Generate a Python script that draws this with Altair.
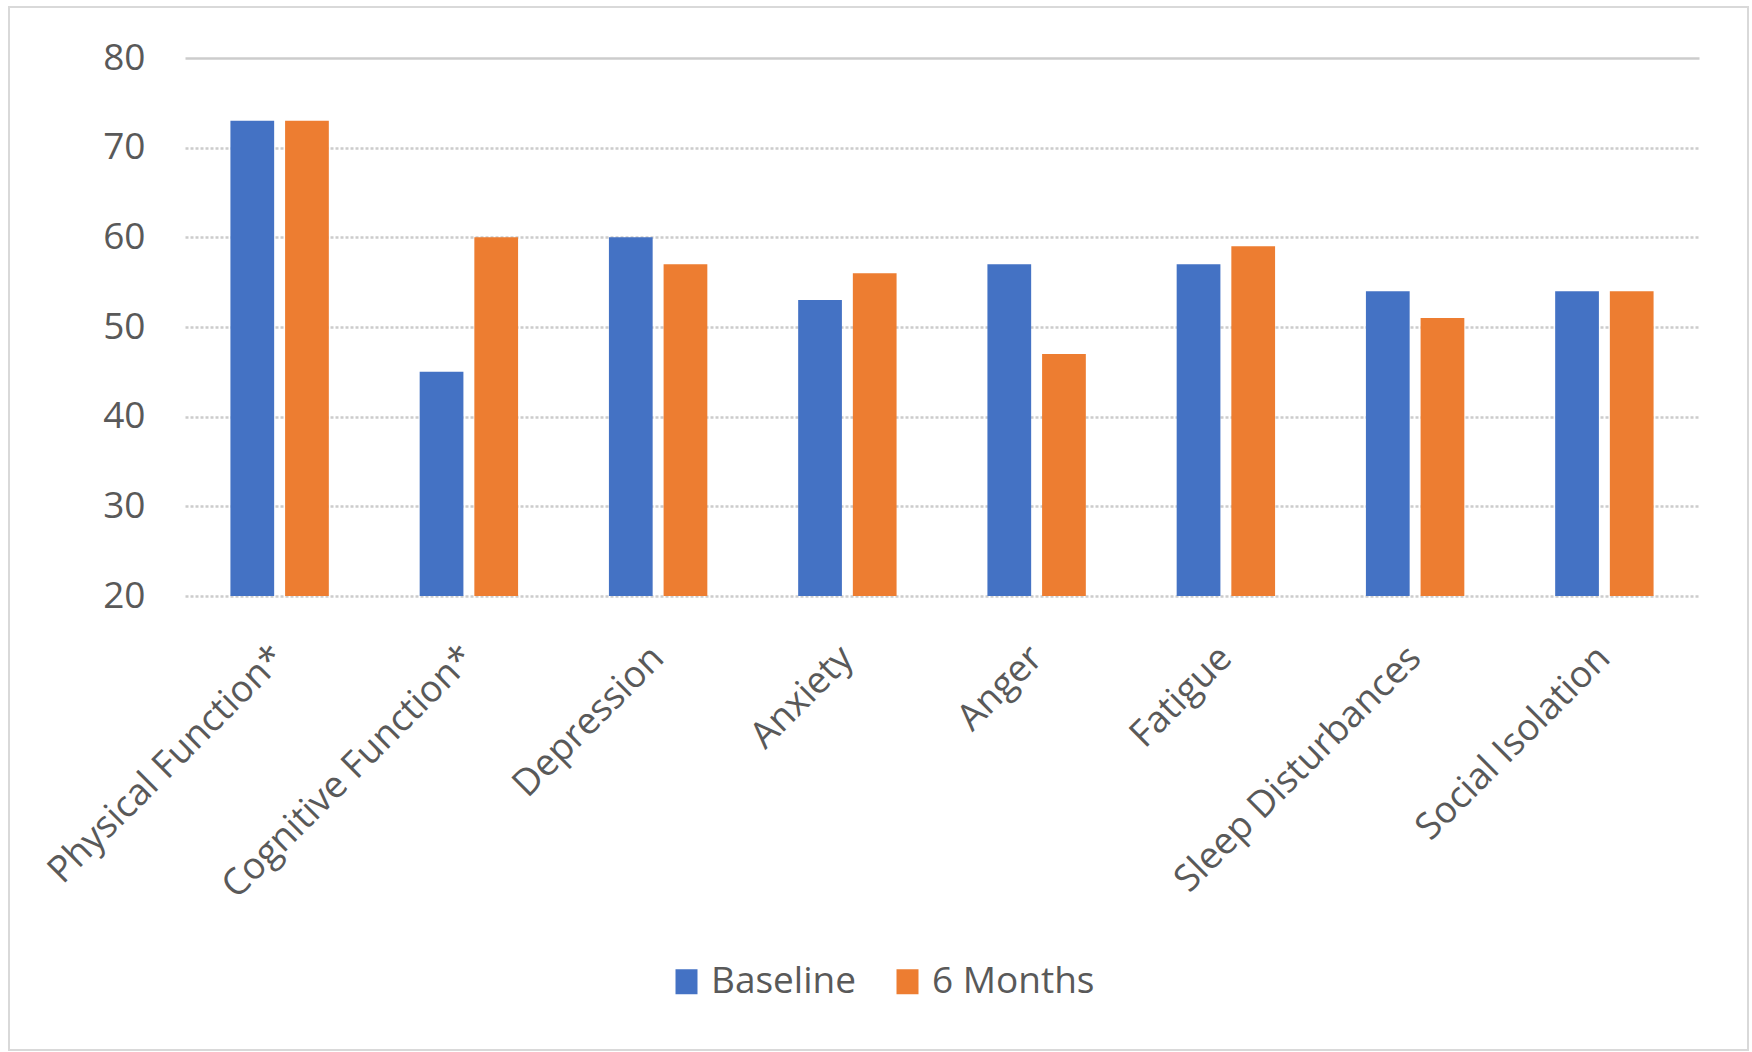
import altair as alt
import pandas as pd

# Domain scores at baseline and after six months
categories = [
    "Physical Function*",
    "Cognitive Function*",
    "Depression",
    "Anxiety",
    "Anger",
    "Fatigue",
    "Sleep Disturbances",
    "Social Isolation",
]
series_names = ["Baseline", "6 Months"]
baseline = [73, 45, 60, 53, 57, 57, 54, 54]
six_months = [73, 60, 57, 56, 47, 59, 51, 54]
y_ticks = [20, 30, 40, 50, 60, 70, 80]

rows = []
for cat, b, s in zip(categories, baseline, six_months):
    rows.append({"domain": cat, "series": series_names[0], "score": b})
    rows.append({"domain": cat, "series": series_names[1], "score": s})
df = pd.DataFrame(rows)

FONT = "Open Sans"
TEXT = "#595959"
GRID = "#cccccc"

W, H = 1514, 538
PAD = {"left": 185, "top": 58, "right": 1752 - 185 - W, "bottom": 1052 - 58 - H}

bars = alt.Chart(df).mark_bar().encode(
    x=alt.X(
        "domain:N",
        sort=categories,
        scale=alt.Scale(paddingInner=0.48, paddingOuter=0.24),
        axis=alt.Axis(
            title=None,
            labelAngle=-45,
            labelAlign="right",
            labelBaseline="middle",
            labelPadding=56,
            labelFontSize=37,
            labelFont=FONT,
            labelColor=TEXT,
            labelLimit=1000,
            ticks=False,
            domain=False,
            grid=False,
        ),
    ),
    xOffset=alt.XOffset(
        "series:N", sort=series_names, scale=alt.Scale(paddingInner=0.2, paddingOuter=0)
    ),
    y=alt.Y(
        "score:Q",
        scale=alt.Scale(domain=[20, 80], nice=False, zero=False),
        axis=alt.Axis(
            title=None,
            values=y_ticks,
            labelFontSize=37,
            labelFont=FONT,
            labelColor=TEXT,
            labelPadding=40,
            ticks=False,
            domain=False,
            grid=True,
            gridColor=GRID,
            gridWidth=2.5,
            gridDash={"condition": {"test": "datum.value === 80", "value": []}, "value": [3, 2]},
        ),
    ),
    y2=alt.datum(20),
    color=alt.Color(
        "series:N",
        sort=series_names,
        scale=alt.Scale(domain=series_names, range=["#4472C4", "#ED7D31"]),
        legend=alt.Legend(
            title=None,
            orient="none",
            direction="horizontal",
            legendX=483,
            legendY=905,
            labelFont=FONT,
            labelFontSize=37,
            labelColor=TEXT,
            labelLimit=1000,
            labelOffset=6,
            columnPadding=32,
            symbolType="M-0.88,-1H0.88V1H-0.88Z",
            symbolSize=625,
            symbolStrokeWidth=0,
            symbolOpacity=1,
        ),
    ),
)

# Light frame around the whole figure
frame = alt.Chart(pd.DataFrame({"k": [0]})).mark_rect(
    fill=None, stroke="#d9d9d9", strokeWidth=2
).encode(
    x=alt.value(-176),
    x2=alt.value(1563),
    y=alt.value(-51),
    y2=alt.value(992),
)

chart = (
    alt.layer(frame, bars)
    .properties(
        width=W,
        height=H,
        padding=PAD,
        autosize=alt.AutoSizeParams(type="none"),
        background="white",
    )
    .configure_view(stroke=None)
)

chart.save("out.html", embed_options={"renderer": "svg", "actions": False})
